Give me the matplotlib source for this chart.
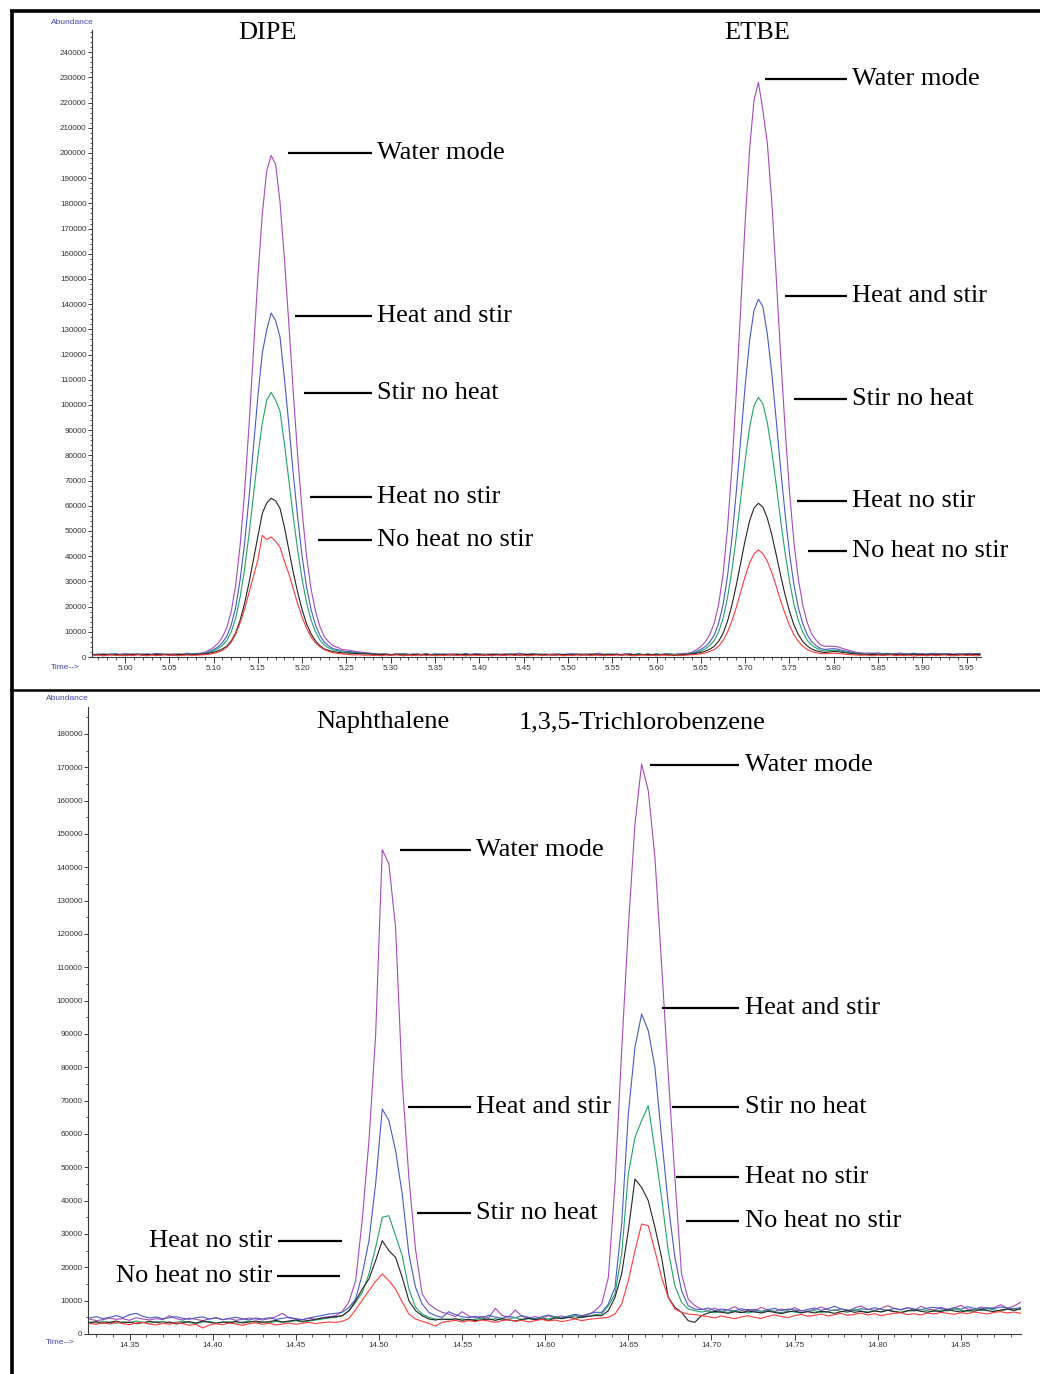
import numpy as np
import matplotlib
matplotlib.use("Agg")
import matplotlib.pyplot as plt
from matplotlib.ticker import MultipleLocator, FuncFormatter
from matplotlib.lines import Line2D

# ---------------- DATA (abundance in thousands) ----------------
series_names = ["Water mode", "Heat and stir", "Stir no heat", "Heat no stir", "No heat no stir"]

# Top panel: DIPE / ETBE, scans every 0.005 min from 4.965 min
top_time = np.round(4.965 + 0.005 * np.arange(201), 3)

top_water_mode = [
    1.1,0.9,1.2,1.0,1.3,0.9,1.1,1.4,1.0,1.2,0.9,1.3,1.1,1.0,1.4,1.2,0.9,1.1,1.3,1.0,1.2,1.5,1.3,1.4,
    1.5,1.9,2.7,3.8,5.4,7.9,11.7,18.2,28.5,44.4,65.4,91.7,121.2,150.5,175.8,192.9,199.0,
    195.5,180.5,158.0,132.1,104.8,79.6,57.6,40.0,27.1,18.2,12.1,8.1,6.0,4.4,3.8,3.0,2.8,2.6,2.2,2.0,1.8,1.6,1.4,1.2,
    1.3,1.1,0.9,1.2,1.0,1.4,1.1,0.8,1.2,1.0,
    1.3,0.9,1.1,1.2,0.8,1.0,1.3,1.1,0.9,1.2,
    1.0,1.4,1.1,0.9,1.2,1.0,0.8,1.1,1.3,1.0,
    1.2,1.5,1.2,1.0,1.4,1.1,0.9,1.2,1.0,1.3,
    1.1,0.8,1.0,1.2,1.1,0.9,1.3,1.0,1.2,1.5,
    1.1,1.0,0.8,1.2,1.0,1.1,1.3,0.9,1.2,1.0,
    1.1,0.9,1.2,1.0,1.3,1.1,1.0,1.2,1.4,
    1.5,1.9,2.8,4.2,6.0,8.9,13.3,20.7,32.6,50.7,74.8,105.0,138.8,172.4,201.4,221.0,228.0,
    217.0,204.0,181.0,151.3,120.0,91.1,65.9,45.7,31.0,20.7,13.7,9.2,6.7,4.9,4.2,4.3,4.2,4.0,3.4,2.9,2.4,1.9,1.7,1.5,
    1.6,1.4,1.7,1.3,1.5,1.2,1.4,1.6,1.3,1.1,1.5,1.2,1.4,1.0,1.3,1.5,1.1,1.2,1.4,1.0,1.3,1.1,1.2,1.5,1.0,1.3,
]
top_heat_and_stir = [
    0.9,1.2,1.0,0.8,1.1,1.3,1.0,0.9,1.2,1.0,1.1,0.8,1.2,1.0,0.9,1.3,1.1,1.0,0.8,1.2,1.0,1.1,1.3,1.2,
    1.3,1.5,2.1,2.9,4.0,5.7,8.3,12.8,19.8,30.7,45.0,63.1,83.2,103.3,120.6,129.8,136.5,
    133.5,127.0,110.5,92.0,72.6,55.2,39.8,27.7,18.9,12.8,8.6,5.9,4.4,3.3,2.9,2.4,2.2,2.1,1.8,1.7,1.5,1.4,1.3,1.1,
    1.0,1.2,0.9,1.1,1.3,1.0,0.8,1.2,1.1,0.9,
    1.2,1.0,1.3,0.9,1.1,1.2,1.0,0.8,1.1,1.3,
    0.9,1.1,1.2,1.0,0.8,1.2,1.1,1.0,0.9,1.3,
    1.0,1.2,1.1,0.9,1.3,1.0,1.2,0.8,1.1,1.0,
    1.2,0.9,1.1,1.3,1.0,1.2,0.9,1.1,1.0,1.2,
    0.8,1.1,1.2,1.0,0.9,1.3,1.1,1.0,1.2,0.9,
    1.1,1.0,1.2,0.9,1.1,1.3,1.0,1.2,1.1,
    1.3,1.6,2.1,3.0,4.1,5.9,8.6,13.3,20.6,31.9,46.8,65.6,86.6,107.5,125.5,137.6,142.0,
    139.0,128.2,112.8,94.3,74.9,57.0,41.3,28.8,19.6,13.3,8.9,6.1,4.5,3.4,3.0,3.2,3.3,3.1,2.6,2.3,1.9,1.6,1.4,1.2,
    1.3,1.5,1.2,1.4,1.1,1.3,1.2,1.0,1.4,1.2,1.1,1.3,1.0,1.2,1.4,1.1,1.3,1.0,1.2,1.1,1.3,1.0,1.2,1.1,1.3,1.2,
]
top_stir_no_heat = [
    1.0,0.8,1.1,0.9,1.2,1.0,0.8,1.1,0.9,1.0,1.2,0.9,0.8,1.1,1.0,0.9,1.2,1.0,0.8,1.1,0.9,1.0,1.2,1.1,
    1.2,1.4,1.8,2.5,3.3,4.6,6.6,10.0,15.5,23.8,34.8,48.6,64.1,79.5,92.8,101.8,105.0,
    102.0,97.5,84.5,70.0,55.5,42.3,30.7,21.5,14.7,10.0,6.8,4.7,3.6,2.8,2.5,2.0,1.9,1.8,1.6,1.5,1.4,1.3,1.2,1.0,
    0.9,1.1,1.0,0.8,1.2,1.0,0.9,1.1,0.8,1.0,
    1.2,0.9,1.0,1.1,0.8,1.0,0.9,1.2,1.0,0.8,
    1.1,0.9,1.0,1.2,0.9,0.8,1.1,1.0,0.9,1.2,
    1.0,0.8,1.1,0.9,1.0,1.2,0.9,1.1,0.8,1.0,
    0.9,1.1,1.0,0.8,1.2,0.9,1.0,1.1,0.9,0.8,
    1.0,1.2,0.9,1.0,0.8,1.1,0.9,1.0,1.2,0.9,
    1.0,0.8,1.1,0.9,1.0,1.2,0.9,1.1,1.0,
    1.2,1.4,1.8,2.4,3.2,4.6,6.5,9.9,15.2,23.3,34.2,47.7,62.9,78.0,91.1,99.8,103.0,
    100.5,93.0,81.9,68.5,54.4,41.5,30.2,21.1,14.5,9.9,6.7,4.7,3.6,2.7,2.4,2.6,2.7,2.6,2.2,1.9,1.6,1.4,1.2,1.1,
    1.0,1.2,0.9,1.1,1.3,1.0,0.8,1.1,1.2,0.9,1.0,1.2,0.8,1.1,0.9,1.0,1.2,0.9,1.1,1.0,0.8,1.2,1.0,0.9,1.1,1.0,
]
top_heat_no_stir = [
    0.8,1.0,0.9,1.1,0.8,1.0,0.9,0.7,1.0,0.9,1.1,0.8,1.0,0.9,1.1,0.8,1.0,0.9,0.8,1.0,0.9,1.1,0.9,1.0,
    1.1,1.2,1.5,1.9,2.4,3.2,4.3,6.4,9.6,14.6,21.2,29.4,38.6,47.8,57.0,61.1,63.0,
    62.0,59.0,51.5,42.5,33.5,25.6,18.7,13.2,9.2,6.4,4.5,3.2,2.6,2.1,1.9,1.6,1.6,1.5,1.4,1.3,1.2,1.2,1.1,1.0,
    0.9,1.0,0.8,1.1,0.9,0.7,1.0,0.9,1.1,0.8,
    1.0,0.9,0.7,1.0,1.1,0.9,0.8,1.0,0.9,1.1,
    0.8,1.0,0.9,0.7,1.0,0.9,1.1,0.8,1.0,0.9,
    1.0,0.8,0.9,1.1,0.9,1.0,0.8,1.0,0.9,0.7,
    1.0,0.9,1.1,0.8,1.0,0.9,0.8,1.0,1.1,0.9,
    0.8,1.0,0.9,1.1,0.8,0.9,1.0,0.8,1.0,0.9,
    1.1,0.9,0.8,1.0,0.9,0.7,0.6,0.7,0.9,
    1.0,1.2,1.5,1.8,2.3,3.1,4.2,6.2,9.3,14.1,20.5,28.5,37.4,46.3,54.0,59.1,61.0,
    59.5,55.1,48.6,40.7,32.4,24.8,18.2,12.8,8.9,6.2,4.4,3.2,2.5,2.0,1.8,2.0,2.2,2.1,1.8,1.6,1.4,1.2,1.1,1.0,
    0.9,1.1,1.0,0.8,1.2,1.0,0.9,1.1,0.8,1.0,1.2,0.9,1.0,0.8,1.1,0.9,1.0,1.2,0.9,1.0,0.8,1.1,1.0,0.9,1.1,1.0,
]
top_no_heat_no_stir = [
    0.6,0.8,0.5,0.7,0.9,0.6,0.8,0.5,0.7,0.6,0.9,0.7,0.5,0.8,0.6,0.7,0.9,0.6,0.8,0.5,0.7,0.8,0.7,
    0.7,0.8,0.9,1.1,1.4,1.9,2.6,3.9,5.9,9.0,13.5,19.0,25.5,32.0,38.5,48.3,46.6,47.6,46.0,43.5,
    38.0,33.0,27.0,21.0,15.8,11.4,8.0,5.6,4.0,2.9,2.2,1.7,1.4,1.2,1.1,0.9,0.8,0.9,0.7,0.8,0.6,
    0.7,0.5,0.8,0.6,0.9,0.7,0.5,0.8,0.6,0.7,
    0.9,0.6,0.8,0.5,0.7,0.6,0.8,0.9,0.6,0.7,
    0.5,0.8,0.7,0.6,0.9,0.7,0.5,0.8,0.6,0.7,
    0.8,0.6,0.9,0.7,0.5,0.7,0.8,0.6,0.7,0.9,
    0.6,0.8,0.5,0.7,0.6,0.8,0.7,0.9,0.6,0.7,
    0.8,0.5,0.7,0.6,0.8,0.7,0.9,0.6,0.5,0.7,
    0.8,0.6,0.7,0.5,0.8,0.7,0.6,0.8,0.7,0.6,
    0.8,0.9,1.0,1.3,1.6,2.2,2.9,4.3,6.5,9.8,14.2,19.7,25.9,32.0,37.3,40.9,42.5,
    41.0,38.0,33.6,28.2,22.4,17.2,12.6,8.9,6.2,4.3,3.0,2.2,1.7,1.4,1.3,1.4,1.5,1.4,1.2,1.0,0.9,0.8,0.7,0.8,
    0.7,0.5,0.8,0.6,0.7,0.9,0.5,0.7,0.6,0.8,0.4,0.6,0.7,0.5,0.8,0.6,0.7,0.9,0.6,0.5,0.7,0.8,0.6,0.7,0.5,0.6,
]

# Bottom panel: Naphthalene / 1,3,5-Trichlorobenzene, scans every 0.004 min from 14.326 min
bot_time = np.round(14.326 + 0.004 * np.arange(141), 3)

bot_water_mode = [
    4.5,4.0,4.3,4.8,4.4,4.6,4.1,4.9,4.5,4.2,4.6,4.3,5.5,4.6,4.2,4.8,4.4,4.0,4.5,4.9,
    4.3,4.6,4.1,4.4,4.8,4.5,4.2,4.6,5.2,6.2,4.8,4.5,4.3,4.7,4.4,4.9,5.2,
    5.5,6.8,9.7,16.0,34.5,58.0,89.6,145.3,141.0,122.0,75.7,47.0,25.4,12.0,9.0,7.5,6.5,
    6.0,5.2,6.7,5.4,4.8,5.3,4.9,7.7,5.6,5.0,7.2,5.3,4.8,5.2,4.7,5.5,5.0,5.4,4.9,5.6,5.2,5.8,
    7.0,9.0,17.0,45.0,85.0,122.0,153.0,171.0,163.0,143.0,111.0,78.0,47.0,18.0,10.5,8.5,
    7.5,7.0,7.8,6.8,7.3,8.2,7.0,7.4,6.9,8.0,7.2,6.8,7.5,7.1,7.9,7.0,6.8,7.4,8.1,7.3,
    7.0,7.6,6.9,7.8,8.4,7.4,7.1,7.7,8.5,7.6,7.2,7.9,7.0,8.3,7.5,7.2,8.0,7.4,7.8,8.6,
    7.5,7.3,8.1,7.6,7.9,8.8,7.7,8.4,9.5,
]
bot_heat_and_stir = [
    4.8,5.2,4.6,5.0,5.5,4.9,5.8,6.2,5.3,4.8,5.1,4.6,4.9,5.2,4.7,4.4,4.9,5.1,4.5,4.8,
    4.3,4.7,5.0,4.6,4.2,4.8,4.5,4.9,4.4,4.7,5.0,4.6,4.3,4.8,5.2,5.6,6.0,
    6.2,6.5,8.0,10.5,18.0,28.0,45.0,67.5,64.0,55.0,42.0,24.0,14.0,9.0,6.5,5.5,5.0,
    6.7,5.8,5.2,4.9,5.3,4.8,5.6,5.1,4.7,5.3,4.9,5.5,5.0,4.6,5.2,5.7,5.1,4.8,5.4,5.9,5.5,6.0,
    6.5,6.5,9.0,14.0,33.0,66.0,86.0,96.0,91.0,80.0,59.0,39.0,23.0,13.0,8.5,7.5,
    7.3,7.8,7.0,7.5,7.2,6.9,7.6,7.1,7.4,6.8,7.3,7.7,7.0,7.5,7.2,6.9,7.4,7.8,7.1,7.6,
    8.3,7.5,7.2,7.0,7.6,7.3,7.9,7.4,7.1,7.7,7.3,7.9,7.5,7.2,7.8,8.0,7.6,7.3,7.9,7.4,
    8.2,7.7,7.5,7.9,7.6,8.1,7.8,7.6,7.9,
]
bot_stir_no_heat = [
    3.6,3.3,3.8,3.5,3.2,3.7,3.4,3.9,3.5,3.2,3.6,3.8,3.3,3.5,3.9,3.4,3.1,3.6,3.8,3.3,
    3.5,3.7,3.2,3.6,3.9,3.4,3.6,3.3,3.8,3.5,3.7,4.0,3.6,3.9,4.2,4.5,4.8,
    5.0,5.5,7.0,9.5,12.5,18.0,26.0,35.0,35.5,29.5,23.5,13.5,8.0,6.0,5.0,4.5,4.3,
    4.5,4.2,4.6,4.1,4.4,4.8,4.3,4.6,4.2,4.5,4.9,4.3,4.6,4.4,4.8,4.5,5.2,4.7,5.0,5.5,4.9,5.3,
    5.8,6.0,8.5,12.0,24.0,48.0,59.0,64.0,68.5,55.0,41.0,25.0,14.5,9.5,7.5,7.0,
    6.6,6.9,6.4,6.8,6.5,7.0,6.6,6.3,6.8,6.5,7.1,6.7,6.4,6.9,6.6,6.3,6.8,7.0,6.5,6.7,
    7.3,6.8,6.5,7.5,6.9,6.6,7.0,6.7,7.2,6.8,6.5,7.1,6.9,7.4,7.0,6.7,7.2,6.9,7.5,7.1,
    6.8,7.3,7.0,7.6,7.2,6.9,7.4,7.1,7.5,
]
bot_heat_no_stir = [
    3.4,3.7,3.2,3.5,3.9,3.3,3.6,3.1,3.4,3.8,3.5,3.2,3.6,3.0,3.4,3.7,3.3,3.9,3.5,3.2,
    3.6,3.4,3.8,3.3,3.6,3.9,3.5,3.7,4.1,3.6,3.9,4.2,3.8,4.1,4.4,4.8,5.0,
    5.2,5.5,7.0,10.0,13.5,16.5,22.0,28.0,25.0,23.0,17.0,10.0,7.0,5.5,4.5,4.2,4.5,
    4.3,4.6,4.1,4.4,4.0,4.3,4.5,4.1,4.6,4.2,3.9,4.4,4.7,4.3,4.5,4.1,4.8,4.6,5.0,4.7,5.1,5.3,
    5.5,5.5,7.0,11.0,18.0,31.0,46.5,44.0,40.0,32.0,23.0,11.0,8.0,6.5,4.0,3.5,
    5.5,6.3,6.8,6.5,6.2,6.7,6.4,6.9,6.6,6.3,6.8,6.5,6.1,6.6,6.9,6.4,6.7,6.3,6.8,6.6,
    6.2,6.7,7.0,6.5,6.8,6.4,6.9,6.6,7.1,6.7,6.4,6.9,7.2,6.8,6.5,7.0,6.7,7.3,6.9,6.6,
    7.1,6.8,7.4,7.0,6.7,7.2,7.5,7.1,7.6,
]
bot_no_heat_no_stir = [
    3.2,2.9,3.4,3.0,3.6,3.1,2.8,3.3,3.5,3.0,2.7,3.2,2.9,3.4,3.1,2.6,2.9,1.8,2.7,3.1,
    2.8,3.3,3.0,2.6,3.1,3.4,2.9,3.2,2.7,3.0,3.3,2.9,3.2,3.5,3.1,3.4,3.6,
    3.5,3.8,4.7,7.3,10.2,13.0,15.8,18.0,16.0,13.5,9.6,6.0,4.5,3.8,3.2,2.4,3.5,
    3.8,4.1,3.6,4.0,3.7,4.2,3.9,3.5,4.0,4.3,3.8,4.1,3.6,4.0,4.4,3.9,4.2,3.7,4.1,4.5,4.0,4.4,
    4.6,4.8,5.0,6.0,9.0,16.0,25.0,33.0,32.5,25.0,17.0,11.0,7.5,6.5,6.0,5.8,
    5.5,5.2,4.8,5.4,5.0,4.6,5.1,5.5,5.0,4.7,5.3,5.8,5.2,4.9,5.5,5.9,5.3,5.6,6.0,5.4,
    5.8,6.2,5.6,5.9,6.3,5.7,6.1,5.5,5.9,6.2,6.4,5.8,6.1,5.7,6.3,6.0,6.5,6.2,5.9,6.4,
    6.1,6.6,6.3,6.0,6.5,6.7,6.3,6.6,6.2,
]

top_titles = ["DIPE", "ETBE"]
bot_titles = ["Naphthalene", "1,3,5-Trichlorobenzene"]

# ---------------- STYLE ----------------
W, H = 1040, 1374
line_colors = ["#a64ab8", "#4a5ac4", "#22a36a", "#252525", "#ff3b3b"]
serif = "Liberation Serif"
sans = "Liberation Sans"
label_fs = 19
tick_fs = 5.8
axis_blue = "#4444b4"

top_series = [top_water_mode, top_heat_and_stir, top_stir_no_heat, top_heat_no_stir, top_no_heat_no_stir]
bot_series = [bot_water_mode, bot_heat_and_stir, bot_stir_no_heat, bot_heat_no_stir, bot_no_heat_no_stir]
for s in top_series:
    assert len(s) == len(top_time), len(s)
for s in bot_series:
    assert len(s) == len(bot_time), len(s)

fig = plt.figure(figsize=(W / 100, H / 100), dpi=100)
fig.patch.set_facecolor("white")


def fx(x):
    return x / W


def fy(y):
    return 1 - y / H


ax1 = fig.add_axes([fx(92), fy(657), 889 / W, 627 / H])
ax2 = fig.add_axes([fx(88), fy(1334), 933 / W, 627 / H])


def style_axes(ax, ymax_major, yminor):
    for side in ("top", "right"):
        ax.spines[side].set_visible(False)
    for side in ("left", "bottom"):
        ax.spines[side].set_color("#3a3a3a")
        ax.spines[side].set_linewidth(0.8)
    ax.yaxis.set_major_locator(MultipleLocator(10000))
    ax.yaxis.set_minor_locator(MultipleLocator(yminor))
    ax.xaxis.set_major_locator(MultipleLocator(0.05))
    ax.xaxis.set_minor_locator(MultipleLocator(0.01))
    ax.yaxis.set_major_formatter(FuncFormatter(lambda v, p: f"{int(round(v))}"))
    ax.xaxis.set_major_formatter(FuncFormatter(lambda v, p: f"{v:.2f}"))
    ax.tick_params(axis="both", which="major", labelsize=tick_fs, labelcolor="#333333",
                   color="#3a3a3a", width=0.7)
    ax.tick_params(axis="y", which="major", length=3, pad=1)
    ax.tick_params(axis="y", which="minor", length=1.5, width=0.6, color="#3a3a3a")
    ax.tick_params(axis="x", which="major", length=4.5, pad=1)
    ax.tick_params(axis="x", which="minor", length=2.5, width=0.6, color="#3a3a3a")
    for lab in ax.get_xticklabels() + ax.get_yticklabels():
        lab.set_fontfamily(sans)


# ---- top panel ----
for vals, col in zip(top_series, line_colors):
    ax1.plot(top_time, np.array(vals) * 1000, color=col, lw=0.8)
ax1.set_xlim(4.9628, 5.9662)
ax1.set_ylim(0, 248800)
style_axes(ax1, 240000, 2000)

# ---- bottom panel ----
for vals, col in zip(bot_series, line_colors):
    ax2.plot(bot_time, np.array(vals) * 1000, color=col, lw=0.8)
ax2.set_xlim(14.325, 14.8862)
ax2.set_ylim(0, 188100)
style_axes(ax2, 180000, 5000)

# ---- peak annotations (label, y, line start x, line end x, text x) ----
def annotate(ax, items, x_end, x_text, ha="left"):
    for name, yv, xs in items:
        ax.plot([xs, x_end], [yv, yv], color="black", lw=1.6, clip_on=False,
                solid_capstyle="butt")
        ax.text(x_text, yv, name, fontsize=label_fs, family=serif, ha=ha,
                va="center", clip_on=False)


annotate(ax1, [("Water mode", 200000, 5.184), ("Heat and stir", 135300, 5.1919),
               ("Stir no heat", 104800, 5.2020), ("Heat no stir", 63500, 5.2088),
               ("No heat no stir", 46400, 5.2178)], 5.2788, 5.2844)
annotate(ax1, [("Water mode", 229400, 5.7224), ("Heat and stir", 143300, 5.7449),
               ("Stir no heat", 102400, 5.7550), ("Heat no stir", 61900, 5.7585),
               ("No heat no stir", 42100, 5.7709)], 5.8149, 5.8206)
annotate(ax2, [("Water mode", 145200, 14.5125), ("Heat and stir", 68100, 14.5173),
               ("Stir no heat", 36300, 14.5227)], 14.5552, 14.5582)
# left-side labels for naphthalene
for name, yv, xs, xe in [("Heat no stir", 27900, 14.4392, 14.4777),
                         ("No heat no stir", 17400, 14.4386, 14.4765)]:
    ax2.plot([xs, xe], [yv, yv], color="black", lw=1.6, solid_capstyle="butt")
    ax2.text(14.4362, yv, name, fontsize=label_fs, family=serif, ha="right", va="center")
annotate(ax2, [("Water mode", 170700, 14.6628), ("Heat and stir", 97800, 14.6700),
               ("Stir no heat", 68100, 14.6760), ("Heat no stir", 47100, 14.6784),
               ("No heat no stir", 33900, 14.6844)], 14.7163, 14.7199)

# ---- compound titles ----
ax1.text(5.1614, 247600, top_titles[0], fontsize=label_fs, family=serif, ha="center", va="center", clip_on=False)
ax1.text(5.7133, 247600, top_titles[1], fontsize=label_fs, family=serif, ha="center", va="center", clip_on=False)
ax2.text(14.5023, 183600, bot_titles[0], fontsize=label_fs, family=serif, ha="center", va="center", clip_on=False)
ax2.text(14.658, 183600, bot_titles[1], fontsize=label_fs, family=serif, ha="center", va="center", clip_on=False)

# ---- axis captions ----
fig.text(fx(51), fy(22), "Abundance", fontsize=6, family=sans, color=axis_blue, ha="left", va="center")
fig.text(fx(51), fy(668), "Time-->", fontsize=6, family=sans, color=axis_blue, ha="left", va="center")
fig.text(fx(46), fy(699), "Abundance", fontsize=6, family=sans, color=axis_blue, ha="left", va="center")
fig.text(fx(46), fy(1343), "Time-->", fontsize=6, family=sans, color=axis_blue, ha="left", va="center")

# ---- frame lines ----
fig.add_artist(Line2D([fx(11.5), fx(11.5)], [fy(9.5), fy(1374)], color="black", lw=2.6,
                      transform=fig.transFigure, solid_capstyle="butt"))
fig.add_artist(Line2D([fx(10), fx(1040)], [fy(11), fy(11)], color="black", lw=2.6,
                      transform=fig.transFigure, solid_capstyle="butt"))
fig.add_artist(Line2D([fx(10), fx(1040)], [fy(689.5), fy(689.5)], color="black", lw=1.8,
                      transform=fig.transFigure, solid_capstyle="butt"))

fig.savefig("out.png", dpi=100, facecolor="white")
